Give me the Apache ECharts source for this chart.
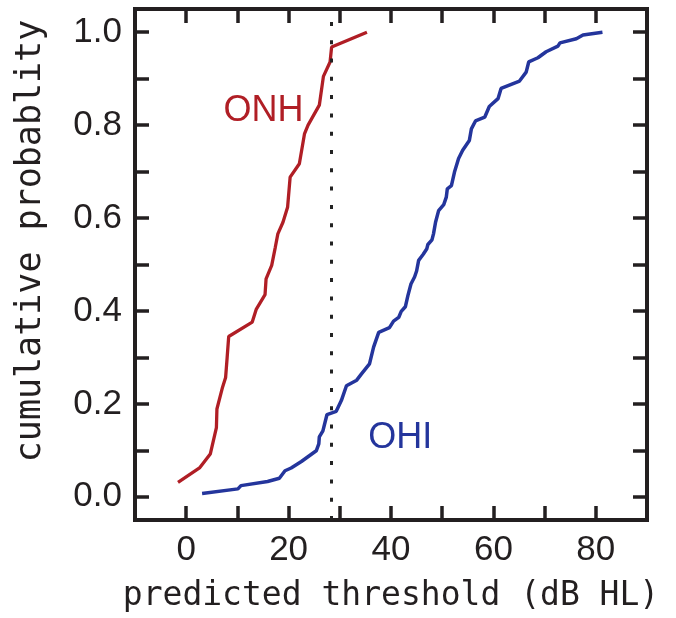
<!DOCTYPE html>
<html>
<head>
<meta charset="utf-8">
<script src="https://cdn.jsdelivr.net/npm/echarts@6/dist/echarts.min.js"></script>
<style>
  html, body { margin: 0; padding: 0; background: #fff; }
  #chart { width: 676px; height: 618px; }
</style>
</head>
<body>
<div id="chart"></div>
<script>
// Cumulative distributions of predicted threshold, dB HL
const onhThreshold = [-1.6, 2.6, 4.7, 5.9, 6.0, 7.1, 7.7, 8.0, 8.3, 12.9, 13.7, 15.4, 15.6, 16.7, 17.4, 17.9, 18.9, 19.8, 20.3, 22.1, 23.1, 23.8, 26.0, 26.8, 28.1, 28.4, 35.3];
const onhProb      = [0.031, 0.062, 0.092, 0.149, 0.189, 0.236, 0.257, 0.300, 0.345, 0.376, 0.404, 0.435, 0.469, 0.498, 0.537, 0.566, 0.591, 0.623, 0.688, 0.717, 0.781, 0.800, 0.843, 0.905, 0.936, 0.968, 1.000];

const ohiThreshold = [3.1, 10.1, 10.7, 15.9, 18.2, 19.3, 20.5, 22.5, 25.4, 25.9, 26.0, 26.7, 27.5, 29.3, 30.3, 31.3, 33.3, 34.2, 35.8, 36.6, 37.6, 39.7, 40.5, 41.5, 42.0, 42.8, 43.3, 43.9, 44.6, 45.0, 45.4, 46.3, 47.0, 47.2, 48.0, 48.3, 48.7, 49.3, 50.3, 50.8, 51.0, 51.8, 52.4, 53.2, 54.0, 55.3, 55.7, 56.5, 58.3, 59.2, 60.9, 61.5, 65.1, 66.4, 66.9, 68.7, 70.3, 72.6, 73.0, 76.2, 77.5, 81.3];
const ohiProb      = [0.007, 0.017, 0.024, 0.033, 0.040, 0.056, 0.062, 0.076, 0.099, 0.114, 0.129, 0.142, 0.177, 0.184, 0.207, 0.239, 0.251, 0.264, 0.286, 0.322, 0.354, 0.364, 0.378, 0.386, 0.399, 0.409, 0.433, 0.458, 0.473, 0.486, 0.509, 0.522, 0.534, 0.543, 0.553, 0.566, 0.591, 0.616, 0.629, 0.645, 0.663, 0.670, 0.699, 0.728, 0.746, 0.767, 0.792, 0.809, 0.817, 0.840, 0.857, 0.879, 0.895, 0.914, 0.936, 0.945, 0.958, 0.970, 0.977, 0.986, 0.994, 1.000];

// reference threshold (dotted vertical line)
const referenceThreshold = 28.4;

// axis ticks and labels
const xTickValues  = [0, 10, 20, 30, 40, 50, 60, 70, 80];
const xLabelValues = [0, 20, 40, 60, 80];
const yTickValues  = [0, 0.1, 0.2, 0.3, 0.4, 0.5, 0.6, 0.7, 0.8, 0.9, 1.0];
const yLabelValues = [0, 0.2, 0.4, 0.6, 0.8, 1.0];

// group labels and their anchors in data coordinates
const groupNames   = ['ONH', 'OHI'];
const groupAnchors = [[15.1, 0.83], [41.8, 0.127]];

const INK = '#231f20';
const RED = '#b01e25';
const BLUE = '#24359c';

const zip = (xs, ys) => xs.map((x, i) => [x, ys[i]]);

const tickStyle = { show: true, inside: true, length: 14, lineStyle: { color: INK, width: 3.5 } };
const lineStyleAxis = { show: true, onZero: false, lineStyle: { color: INK, width: 4 } };
const labelFont = { fontFamily: '"Liberation Sans", Arial, sans-serif', fontSize: 35, color: INK };

function xAxisDef(position, showLabels) {
  return {
    type: 'value', position, min: -10, max: 90, interval: 10,
    axisLine: lineStyleAxis,
    axisTick: Object.assign({ customValues: xTickValues }, tickStyle),
    axisLabel: Object.assign({ show: showLabels, margin: 13, customValues: xLabelValues }, labelFont),
    splitLine: { show: false }
  };
}
function yAxisDef(position, showLabels) {
  return {
    type: 'value', position, min: -0.05, max: 1.05,
    axisLine: lineStyleAxis,
    axisTick: Object.assign({ customValues: yTickValues }, tickStyle),
    axisLabel: Object.assign({ show: showLabels, margin: 13, customValues: yLabelValues,
      formatter: v => v.toFixed(1) }, labelFont),
    splitLine: { show: false }
  };
}

const groupLabel = (i, color) => ({
  symbol: 'circle', symbolSize: 0, silent: true,
  label: { show: true, position: 'inside', formatter: groupNames[i], color,
    fontFamily: '"Liberation Sans", Arial, sans-serif', fontSize: 36 },
  data: [{ coord: groupAnchors[i] }]
});

const chart = echarts.init(document.getElementById('chart'), null, { renderer: 'canvas' });
chart.setOption({
  animation: false,
  backgroundColor: '#fff',
  grid: { left: 135, right: 29, top: 9, bottom: 98, show: true, borderColor: INK, borderWidth: 4, backgroundColor: 'transparent' },
  xAxis: [
    Object.assign(xAxisDef('bottom', true), {
      name: 'predicted threshold (dB HL)', nameLocation: 'middle', nameGap: 60,
      nameTextStyle: { fontFamily: '"DejaVu Sans Mono", monospace', fontSize: 33, color: INK }
    }),
    xAxisDef('top', false)
  ],
  yAxis: [yAxisDef('left', true), yAxisDef('right', false)],
  graphic: [{
    type: 'text', x: 31, y: 241, rotation: Math.PI / 2,
    style: { text: 'cumulative probablity', fill: INK, align: 'center', verticalAlign: 'middle',
      font: '35px "DejaVu Sans Mono", monospace' }
  }],
  series: [
    {
      name: 'ONH', type: 'line', xAxisIndex: 0, yAxisIndex: 0,
      data: zip(onhThreshold, onhProb), showSymbol: false, symbol: 'none',
      lineStyle: { color: RED, width: 3.3 },
      markPoint: groupLabel(0, RED),
      markLine: {
        silent: true, symbol: 'none', label: { show: false },
        lineStyle: { color: '#222', width: 3, type: [4, 14.3] },
        data: [{ xAxis: referenceThreshold }]
      }
    },
    {
      name: 'OHI', type: 'line', xAxisIndex: 0, yAxisIndex: 0,
      data: zip(ohiThreshold, ohiProb), showSymbol: false, symbol: 'none',
      lineStyle: { color: BLUE, width: 3.5 },
      markPoint: groupLabel(1, BLUE)
    }
  ]
});
</script>
</body>
</html>
